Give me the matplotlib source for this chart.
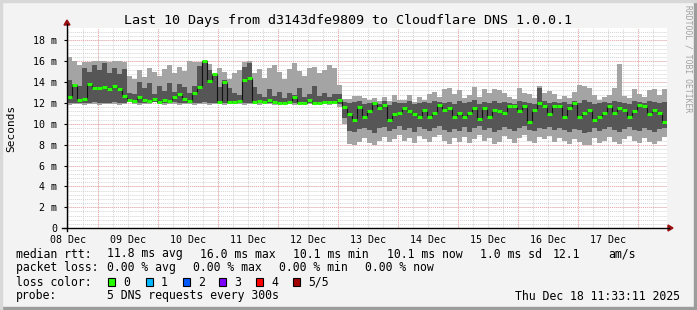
import numpy as np
import pandas as pd
import matplotlib
matplotlib.use('Agg')
import matplotlib.pyplot as plt
from matplotlib.patches import Rectangle, Polygon
from matplotlib.lines import Line2D

plt.rcParams['font.family'] = ['DejaVu Sans Mono', 'DejaVu Sans']

# time frame of the graph
t_start = pd.Timestamp('2025-12-08 11:33:11')
t_end = pd.Timestamp('2025-12-18 11:33:11')
bucket_h = 2  # each value covers 2 hours

day_labels = ['08 Dec', '09 Dec', '10 Dec', '11 Dec', '12 Dec',
              '13 Dec', '14 Dec', '15 Dec', '16 Dec', '17 Dec']
y_ticks = [0, 2, 4, 6, 8, 10, 12, 14, 16, 18]
y_tick_labels = ['0', '2 m', '4 m', '6 m', '8 m', '10 m', '12 m', '14 m', '16 m', '18 m']

# rtt in ms: outer smoke (min/max), inner smoke, median
smoke_min = [11.8, 11.9, 11.9, 11.8, 11.9, 11.9, 11.8, 11.9, 11.9, 11.9, 11.8, 11.9, 12.1, 11.9, 11.8,
             11.9, 11.9, 12.1, 11.9, 11.8, 11.9, 11.9, 11.8, 11.9, 11.9, 11.8, 11.9, 11.9, 11.8, 11.9,
             11.9, 11.8, 11.9, 11.9, 11.9, 11.8, 11.9, 11.9, 11.8, 12.1, 11.9, 11.8, 11.9, 11.9, 11.9,
             11.8, 11.9, 12.1, 11.9, 11.8, 11.9, 11.9, 11.8, 11.9, 11.6,
             10.0, 8.1, 8.0, 8.3, 8.6, 8.2, 8.0, 8.4, 8.7, 8.3, 8.5, 8.9, 8.4, 8.6, 8.2,
             8.8, 8.5, 8.3, 8.7, 8.9, 8.4, 8.1, 8.6, 8.3, 8.7, 8.2, 8.5, 8.9, 8.4, 8.6,
             8.1, 8.3, 8.8, 8.5, 8.2, 8.6, 8.9, 8.4, 8.2, 8.7, 8.5, 8.8, 8.3, 8.6, 8.4,
             8.1, 8.5, 8.3, 8.0, 8.0, 8.6, 8.2, 8.4, 8.7, 8.3, 8.1, 8.5, 8.8, 8.4, 8.2,
             8.6, 8.3, 8.1, 8.4, 8.7]
smoke_lo = [12.0, 12.0, 12.0, 12.0, 12.0, 12.1, 12.0, 12.0, 12.0, 12.1, 12.0, 12.0, 12.1, 12.0, 12.0,
            12.0, 12.1, 12.1, 12.0, 12.0, 12.0, 12.1, 12.0, 12.0, 12.0, 12.0, 12.0, 12.1, 12.0, 12.0,
            12.0, 12.0, 12.0, 12.0, 12.1, 12.0, 12.0, 12.0, 12.0, 12.1, 12.0, 12.0, 12.0, 12.0, 12.0,
            12.0, 12.0, 12.1, 12.0, 12.0, 12.0, 12.0, 12.0, 12.0, 11.9,
            10.6, 9.3, 9.2, 9.5, 9.6, 9.4, 9.1, 9.6, 9.7, 9.3, 9.5, 9.8, 9.4, 9.6, 9.2,
            9.7, 9.5, 9.3, 9.6, 9.8, 9.4, 9.2, 9.5, 9.3, 9.7, 9.2, 9.6, 9.8, 9.4, 9.6,
            9.2, 9.4, 9.7, 9.5, 9.3, 9.6, 9.8, 9.4, 9.3, 9.6, 9.5, 9.7, 9.4, 9.6, 9.4,
            9.2, 9.5, 9.4, 9.1, 9.2, 9.6, 9.3, 9.5, 9.7, 9.4, 9.2, 9.5, 9.7, 9.4, 9.3,
            9.6, 9.4, 9.2, 9.5, 9.6]
smoke_hi = [14.2, 13.8, 13.6, 15.4, 15.0, 15.6, 15.2, 15.8, 14.9, 15.4, 14.8, 15.3, 13.0, 12.9, 14.0,
            13.4, 13.9, 12.9, 13.6, 13.2, 13.9, 13.1, 13.8, 13.5, 13.0, 13.6, 15.6, 16.0, 15.2, 14.8,
            13.5, 14.2, 13.4, 13.0, 12.8, 15.5, 15.8, 13.5, 12.9, 12.6, 13.3, 12.7, 13.1, 12.5, 13.0,
            12.8, 13.4, 12.6, 12.9, 13.6, 12.7, 13.0, 12.6, 12.9, 12.9,
            12.1, 12.0, 12.1, 12.2, 11.9, 12.0, 12.1, 11.9, 12.2, 11.8, 12.1, 12.0, 12.0, 12.2, 11.9,
            12.0, 12.1, 12.0, 12.2, 12.1, 12.0, 12.1, 11.9, 12.2, 12.0, 12.1, 12.3, 11.9, 12.1, 12.0,
            12.2, 12.0, 12.1, 12.0, 11.9, 12.2, 12.1, 12.0, 11.9, 13.4, 12.2, 12.0, 12.1, 12.0, 12.1,
            11.9, 12.2, 12.0, 12.3, 12.1, 11.9, 12.0, 12.1, 12.0, 12.2, 12.1, 12.0, 11.9, 12.2, 12.1,
            12.0, 12.2, 12.1, 12.0, 12.1]
smoke_max = [16.4, 16.0, 15.6, 15.9, 15.9, 16.0, 16.0, 16.0, 15.9, 16.0, 16.0, 15.9, 14.6, 14.3, 15.2,
             14.5, 15.4, 15.0, 14.6, 15.3, 15.6, 14.9, 15.5, 15.1, 16.0, 15.9, 15.9, 16.0, 15.7, 14.8,
             15.4, 15.0, 14.3, 14.9, 15.2, 15.9, 16.0, 14.9, 15.3, 14.4, 15.4, 15.6, 15.0, 14.3, 15.3,
             15.8, 15.1, 14.6, 15.4, 15.5, 14.9, 15.2, 15.6, 15.4, 13.7,
             12.4, 12.4, 12.7, 12.7, 12.5, 12.3, 12.5, 12.2, 12.6, 12.2, 12.8, 12.3, 12.3, 12.8, 12.1,
             12.6, 12.3, 12.9, 13.1, 12.6, 13.3, 13.4, 12.9, 13.2, 12.5, 12.8, 13.5, 12.6, 13.3, 13.0,
             13.3, 13.2, 13.0, 12.6, 12.4, 13.4, 13.0, 12.9, 12.5, 13.6, 13.0, 13.2, 12.9, 12.4, 12.7,
             12.5, 13.1, 13.7, 13.6, 13.4, 12.8, 12.3, 12.6, 12.8, 13.4, 15.7, 12.7, 12.5, 13.3, 12.9,
             12.6, 13.2, 13.3, 12.8, 13.3]
median_rtt = [12.6, 13.7, 12.3, 12.4, 13.8, 13.4, 13.4, 13.5, 13.3, 13.6, 13.3, 12.7, 12.3, 12.2, 12.6,
              12.3, 12.2, 12.4, 12.1, 12.3, 12.2, 12.6, 12.9, 12.4, 12.2, 13.0, 13.5, 16.0, 14.1, 14.8,
              12.1, 14.0, 12.1, 12.1, 12.2, 14.2, 14.4, 12.1, 12.2, 12.1, 12.3, 12.1, 12.0, 12.0, 12.1,
              12.6, 12.0, 12.0, 12.3, 12.0, 12.0, 12.1, 12.1, 12.1, 12.3,
              11.6, 10.9, 10.4, 11.6, 10.7, 11.2, 12.0, 11.5, 11.8, 10.4, 10.9, 11.0, 11.5, 11.2, 10.9,
              10.7, 11.3, 10.7, 11.0, 11.8, 11.3, 11.5, 10.7, 11.0, 10.7, 11.0, 11.5, 10.5, 11.5, 10.7,
              11.35, 11.2, 11.0, 11.7, 11.7, 11.2, 11.7, 10.2, 11.35, 12.0, 11.7, 10.9, 11.7, 11.7, 10.7,
              11.5, 12.0, 10.7, 11.0, 11.35, 10.4, 10.7, 11.0, 11.7, 11.0, 11.5, 11.35, 10.7, 11.2, 11.8,
              11.7, 10.9, 11.35, 11.0, 10.2]

loss_labels = ['0', '1', '2', '3', '4', '5/5']
loss_colors = ['#26ff00', '#00b8ff', '#0059ff', '#7e00ff', '#ff0000', '#a10000']

W, H = 697, 310
fig = plt.figure(figsize=(W / 100, H / 100), dpi=100)
fig.patch.set_facecolor('#f3f3f3')


def fx(x):
    return x / W


def fy(y):
    return 1 - y / H


# 3d-ish frame of the canvas
fig.patches.append(Rectangle((0, 0), 1, 3 / H, transform=fig.transFigure, color='#9c9c9c', zorder=0))
fig.patches.append(Rectangle((fx(694), 0), fx(3), 1, transform=fig.transFigure, color='#9c9c9c', zorder=0))
fig.patches.append(Rectangle((0, fy(2)), 1, 2 / H, transform=fig.transFigure, color='#d8d8d8', zorder=0))
fig.patches.append(Rectangle((0, 0), fx(2), 1, transform=fig.transFigure, color='#d8d8d8', zorder=0))

ax = fig.add_axes([fx(67), fy(228), fx(600), 200 / H])
ax.set_facecolor('white')

span_h = (t_end - t_start) / pd.Timedelta(hours=1)
n = len(median_rtt)
left = np.arange(n) * bucket_h
smoke_min = np.array(smoke_min)
smoke_lo = np.array(smoke_lo)
smoke_hi = np.array(smoke_hi)
smoke_max = np.array(smoke_max)
median_rtt = np.array(median_rtt)

ax.bar(left, smoke_max - smoke_min, bottom=smoke_min, width=bucket_h, align='edge',
       color='#a4a4a4', linewidth=0, zorder=2)
ax.bar(left, smoke_hi - smoke_lo, bottom=smoke_lo, width=bucket_h, align='edge',
       color='#565656', linewidth=0, zorder=3)

# grid behind the smoke
first_midnight = (t_start.normalize() + pd.Timedelta(days=1) - t_start) / pd.Timedelta(hours=1)
midnights = np.arange(first_midnight, span_h, 24)
quarters = np.arange(first_midnight - 18, span_h, 6)
quarters = quarters[quarters > 0]
noons = np.arange(first_midnight - 12, span_h, 24)
for q in quarters:
    ax.axvline(q, color='#d4d4d4', lw=0.7, ls=(0, (1, 1)), zorder=1)
for yv in np.arange(0.4, 19.2, 0.4):
    ax.axhline(yv, color='#d4d4d4', lw=0.7, ls=(0, (1, 1)), zorder=1)
for m in midnights:
    ax.axvline(m, color='#eeaaaa', lw=0.7, ls=(0, (1, 1)), zorder=1)
for yv in y_ticks[1:]:
    ax.axhline(yv, color='#eeaaaa', lw=0.7, ls=(0, (1, 1)), zorder=1)

# median line
edges = np.append(left, left[-1] + bucket_h)
ax.stairs(median_rtt, edges, color='#111111', lw=0.8, zorder=5, baseline=None)
ax.hlines(median_rtt, left, left + bucket_h, color=loss_colors[0], lw=2.2, zorder=6)

ax.set_xlim(0, span_h)
ax.set_ylim(0, 19.2)
for s in ax.spines.values():
    s.set_visible(False)
ax.set_xticks(noons)
ax.set_xticklabels(day_labels, fontsize=7.2)
ax.set_yticks(y_ticks)
ax.set_yticklabels(y_tick_labels, fontsize=7.2)
ax.tick_params(axis='x', length=0, pad=5)
ax.tick_params(axis='y', length=2, width=0.8, pad=5)
ax.set_ylabel('Seconds', fontsize=8)
ax.yaxis.set_label_coords(-0.084, 0.5)

# axis lines with arrows
fig.lines.append(Line2D([fx(62), fx(669)], [fy(228), fy(228)], transform=fig.transFigure, color='black', lw=1))
fig.lines.append(Line2D([fx(67), fx(67)], [fy(231), fy(24)], transform=fig.transFigure, color='black', lw=1))
fig.patches.append(Polygon([[fx(668), fy(225)], [fx(673), fy(228)], [fx(668), fy(231)]],
                           transform=fig.transFigure, color='#9a1010'))
fig.patches.append(Polygon([[fx(64), fy(25)], [fx(67), fy(20)], [fx(70), fy(25)]],
                           transform=fig.transFigure, color='#9a1010'))

fig.text(fx(348), fy(24), 'Last 10 Days from d3143dfe9809 to Cloudflare DNS 1.0.0.1',
         ha='center', va='baseline', fontsize=9.6)
fig.text(fx(688), fy(5), 'RRDTOOL / TOBI OETIKER', rotation=270, ha='center', va='top',
         fontsize=5.8, color='#a0a0a0')

fs = 8.3
rows = [
    (257.5, [(16, 'median rtt:'), (107, '11.8 ms avg'), (200, '16.0 ms max'), (293, '10.1 ms min'),
             (387, '10.1 ms now'), (480, '1.0 ms sd'), (553, '12.1'), (608, 'am/s')]),
    (271, [(16, 'packet loss:'), (107, '0.00 % avg'), (193, '0.00 % max'), (279, '0.00 % min'),
           (365, '0.00 % now')]),
    (285.5, [(16, 'loss color:')]),
    (299.5, [(16, 'probe:'), (107, '5 DNS requests every 300s')]),
]
for yb, items in rows:
    for xp, s in items:
        fig.text(fx(xp), fy(yb), s, ha='left', va='baseline', fontsize=fs)

box_x = [108, 146, 183, 219, 256, 293]
for bx, lab, col in zip(box_x, loss_labels, loss_colors):
    fig.patches.append(Rectangle((fx(bx), fy(286)), fx(7), 8 / H, transform=fig.transFigure,
                                 facecolor=col, edgecolor='black', lw=0.8))
    fig.text(fx(bx + 15), fy(285.5), lab, ha='left', va='baseline', fontsize=fs)

fig.text(fx(680), fy(299.5), 'Thu Dec 18 11:33:11 2025', ha='right', va='baseline', fontsize=fs)

fig.savefig('out.png', dpi=100, facecolor=fig.get_facecolor())
